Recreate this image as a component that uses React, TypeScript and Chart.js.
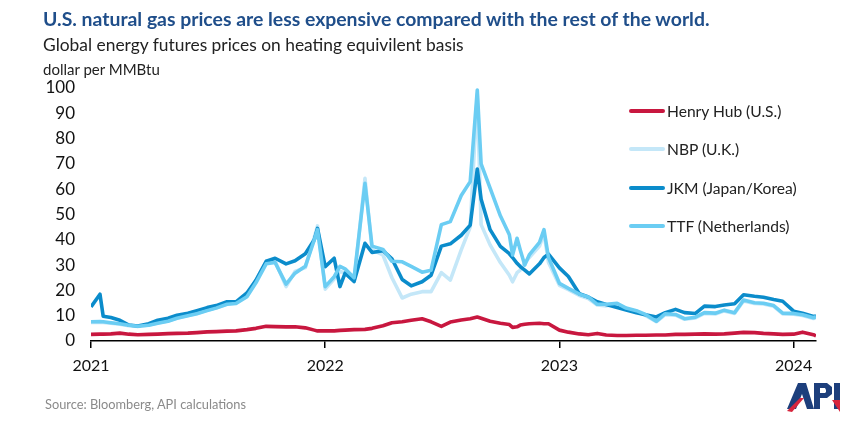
import React, { useEffect, useRef } from "react";
import { Chart, registerables } from "chart.js";

Chart.register(...registerables);

// ---- Data ----
const dates = [
  "2021-01-01", "2021-01-15", "2021-01-20", "2021-02-01", "2021-02-15", "2021-03-01", "2021-03-15",
  "2021-04-01", "2021-04-15", "2021-05-01", "2021-05-15", "2021-06-01", "2021-06-15", "2021-07-01",
  "2021-07-15", "2021-08-01", "2021-08-15", "2021-09-01", "2021-09-15", "2021-10-01", "2021-10-15",
  "2021-11-01", "2021-11-15", "2021-12-01", "2021-12-15", "2021-12-20",
  "2022-01-01", "2022-01-15", "2022-01-24", "2022-02-01", "2022-02-15", "2022-03-04", "2022-03-15",
  "2022-04-01", "2022-04-15", "2022-05-01", "2022-05-15", "2022-06-01", "2022-06-15", "2022-07-01",
  "2022-07-15", "2022-08-01", "2022-08-15", "2022-08-26", "2022-09-01", "2022-09-15", "2022-10-01",
  "2022-10-15", "2022-10-20", "2022-10-27", "2022-11-01", "2022-11-08", "2022-11-15", "2022-12-01",
  "2022-12-08", "2022-12-15",
  "2023-01-01", "2023-01-15", "2023-02-01", "2023-02-15", "2023-03-01", "2023-03-15", "2023-04-01",
  "2023-04-15", "2023-05-01", "2023-05-15", "2023-06-01", "2023-06-15", "2023-07-01", "2023-07-15",
  "2023-08-01", "2023-08-15", "2023-09-01", "2023-09-15", "2023-10-01", "2023-10-15", "2023-11-01",
  "2023-11-15", "2023-12-01", "2023-12-15",
  "2024-01-01", "2024-01-15", "2024-02-01", "2024-02-05",
];

const henryHub = [
  2.6, 2.7, 2.7, 2.8, 3.1, 2.7, 2.5, 2.6, 2.7, 2.9, 3.0, 3.1, 3.3, 3.6, 3.7, 3.9, 4.0, 4.5, 5.0, 5.8, 5.7, 5.6, 5.6, 5.2, 4.3, 4.0,
  4.0, 4.0, 4.2, 4.3, 4.5, 4.6, 5.0, 6.0, 7.2, 7.6, 8.2, 8.8, 7.6, 5.8, 7.5, 8.3, 8.8, 9.5, 9.0, 7.8, 7.0, 6.5, 5.4, 5.6, 6.3, 6.6, 6.8, 7.0, 6.8, 6.8,
  4.3, 3.5, 2.8, 2.5, 3.0, 2.4, 2.2, 2.2, 2.3, 2.3, 2.4, 2.4, 2.6, 2.6, 2.7, 2.8, 2.7, 2.8, 3.1, 3.4, 3.3, 3.0, 2.8, 2.6,
  2.7, 3.5, 2.5, 2.0,
];

const nbp = [
  7.3, 7.4, 7.3, 7.0, 6.6, 6.0, 5.7, 6.3, 7.1, 7.9, 9.1, 10.1, 10.9, 12.1, 13.1, 14.6, 15.0, 18.0, 24.0, 31.5, 31.5, 21.5, 27.5, 29.0, 41.0, 45.5,
  20.5, 24.5, 27.5, 27.0, 23.5, 64.3, 36.0, 34.0, 25.0, 17.0, 18.5, 19.5, 19.5, 27.0, 24.1, 36.0, 45.0, 97.5, 46.0, 38.0, 31.0, 26.0, 23.4, 27.0, 28.0, 31.0, 33.0, 37.5, 42.5, 31.0,
  22.0, 20.3, 18.0, 16.8, 14.2, 13.9, 14.5, 12.7, 11.6, 10.1, 7.6, 10.4, 10.2, 8.6, 9.1, 10.9, 10.7, 11.9, 10.9, 15.8, 14.8, 14.6, 13.7, 10.7,
  10.6, 10.1, 8.9, 9.3,
];

const jkm = [
  13.5, 18.5, 9.8, 9.3, 8.2, 6.3, 5.9, 6.8, 8.2, 9.0, 10.2, 11.0, 12.0, 13.2, 14.0, 15.5, 15.5, 19.0, 24.0, 31.5, 32.7, 30.5, 31.7, 34.5, 40.0, 44.5,
  29.4, 32.7, 21.5, 26.8, 23.5, 38.6, 35.0, 35.7, 32.5, 24.3, 21.8, 23.4, 26.0, 37.5, 38.4, 41.8, 45.8, 68.0, 56.0, 44.0, 37.4, 34.5, 33.0, 30.7, 29.4, 28.0, 26.5, 30.5, 33.0, 34.3,
  28.9, 25.5, 18.7, 17.4, 15.5, 14.4, 13.2, 12.3, 11.2, 10.4, 9.5, 11.2, 12.5, 11.2, 10.9, 13.8, 13.6, 14.2, 14.7, 18.3, 17.7, 17.3, 16.4, 15.7,
  11.8, 11.0, 9.7, 9.9,
];

const ttf = [
  7.6, 7.7, 7.6, 7.2, 6.8, 6.2, 5.8, 6.2, 7.0, 7.8, 9.0, 10.0, 10.8, 12.0, 13.0, 14.5, 14.8, 17.5, 23.0, 30.5, 31.0, 22.5, 26.8, 29.5, 40.0, 44.0,
  21.5, 25.4, 29.5, 28.5, 25.0, 62.3, 37.5, 36.2, 31.5, 31.3, 29.5, 27.2, 28.0, 46.0, 47.2, 57.5, 63.0, 99.2, 70.0, 60.4, 49.5, 42.0, 34.0, 40.6, 36.0, 30.0, 34.0, 39.0, 44.0, 33.0,
  22.8, 20.8, 18.5, 17.4, 14.5, 14.5, 14.9, 13.0, 12.0, 10.5, 7.8, 10.8, 10.5, 8.8, 9.4, 11.2, 11.0, 12.2, 11.2, 16.2, 15.1, 14.9, 14.0, 11.0,
  10.9, 10.4, 9.2, 9.6,
];

const yTickValues = [0, 10, 20, 30, 40, 50, 60, 70, 80, 90, 100];
const xTickYears = [2021, 2022, 2023, 2024];

const seriesLabels = ["Henry Hub (U.S.)", "NBP (U.K.)", "JKM (Japan/Korea)", "TTF (Netherlands)"];
const seriesColors = ["#C8173F", "#C4E7F8", "#0B8CCB", "#6BCDF3"];

function toYear(s: string): number {
  const [y, m, d] = s.split("-").map(Number);
  const start = Date.UTC(y, 0, 1);
  const end = Date.UTC(y + 1, 0, 1);
  return y + (Date.UTC(y, m - 1, d) - start) / (end - start);
}

const FONT = "Lato, 'Open Sans', sans-serif";

export default function App() {
  const ref = useRef<HTMLCanvasElement>(null);

  useEffect(() => {
    if (!ref.current) return;
    const xs = dates.map(toYear);
    const mk = (vals: number[]) => vals.map((v, i) => ({ x: xs[i], y: v }));
    const base = { pointRadius: 0, borderWidth: 3.6, tension: 0, fill: false, borderJoinStyle: "round" as const };
    const chart = new Chart(ref.current, {
      type: "line",
      data: {
        datasets: [
          { ...base, label: seriesLabels[0], data: mk(henryHub), borderColor: seriesColors[0] },
          { ...base, label: seriesLabels[3], data: mk(ttf), borderColor: seriesColors[3] },
          { ...base, label: seriesLabels[2], data: mk(jkm), borderColor: seriesColors[2] },
          { ...base, label: seriesLabels[1], data: mk(nbp), borderColor: seriesColors[1] },
        ],
      },
      options: {
        animation: false,
        responsive: false,
        maintainAspectRatio: false,
        layout: { padding: { left: 0, right: 51, top: 88, bottom: 0 } },
        plugins: { legend: { display: false }, tooltip: { enabled: false } },
        scales: {
          x: {
            type: "linear",
            min: 2021,
            max: toYear(dates[dates.length - 1]),
            afterBuildTicks: (s: any) => {
              s.ticks = xTickYears.map((v) => ({ value: v }));
            },
            afterFit: (s: any) => {
              s.height = 81;
            },
            ticks: {
              callback: (v: any) => String(v),
              font: { family: FONT, size: 16 },
              color: "#111",
              padding: 8,
              maxRotation: 0,
              autoSkip: false,
            },
            grid: {
              display: true,
              drawOnChartArea: false,
              drawTicks: true,
              tickLength: 7,
              color: "#000",
              lineWidth: 1.5,
            },
            border: { display: true, color: "#000", width: 1.5 },
          },
          y: {
            min: 0,
            max: 100,
            afterBuildTicks: (s: any) => {
              s.ticks = yTickValues.map((v) => ({ value: v }));
            },
            afterFit: (s: any) => {
              s.width = 91;
            },
            ticks: { font: { family: FONT, size: 17 }, color: "#111", padding: 16 },
            grid: { display: false, drawTicks: false },
            border: { display: false },
          },
        },
      },
    });
    return () => chart.destroy();
  }, []);

  const legendY = [111, 149, 188, 226];

  return (
    <div
      style={{
        position: "fixed",
        left: 0,
        top: 0,
        width: 867,
        height: 422,
        background: "#fff",
        fontFamily: FONT,
        overflow: "hidden",
      }}
    >
      <canvas ref={ref} width={867} height={422} style={{ position: "absolute", left: 0, top: 0 }} />
      <div style={{ position: "absolute", left: 43, top: 7, fontSize: 19.4, fontWeight: 700, color: "#1F4E8A", whiteSpace: "nowrap" }}>
        U.S. natural gas prices are less expensive compared with the rest of the world.
      </div>
      <div style={{ position: "absolute", left: 43, top: 34, fontSize: 17.4, color: "#222", whiteSpace: "nowrap" }}>
        Global energy futures prices on heating equivilent basis
      </div>
      <div style={{ position: "absolute", left: 43, top: 60, fontSize: 15, color: "#222", whiteSpace: "nowrap" }}>
        dollar per MMBtu
      </div>
      {seriesLabels.map((lab, i) => (
        <div key={lab}>
          <div
            style={{
              position: "absolute",
              left: 629,
              top: legendY[i] - 2,
              width: 36,
              height: 4,
              borderRadius: 2,
              background: seriesColors[i],
            }}
          />
          <div
            style={{
              position: "absolute",
              left: 667,
              top: legendY[i] - 10,
              fontSize: 15.6,
              lineHeight: "20px",
              color: "#222",
              whiteSpace: "nowrap",
            }}
          >
            {lab}
          </div>
        </div>
      ))}
      <div style={{ position: "absolute", left: 45, top: 396, fontSize: 12.8, color: "#8a8a8a", whiteSpace: "nowrap" }}>
        Source: Bloomberg, API calculations
      </div>
      <svg style={{ position: "absolute", left: 784, top: 381 }} width={60} height={32} viewBox="0 0 60 32">
        <polygon points="3,28 14,2 22,2 30,28 23,28 18,13 12,28" fill="#1D3F7C" />
        <polygon points="30,2 43,2 48,6 48,13 43,17 36,17 36,28 30,28" fill="#1D3F7C" />
        <polygon points="36,7 41,7 42,9 42,11 41,12 36,12" fill="#fff" />
        <rect x="50" y="2" width="6" height="26" fill="#1D3F7C" />
        <polygon points="3,30 16,17 20,17 8,31" fill="#D7263D" />
        <polygon points="48,19 56,19 56,31" fill="#D7263D" />
      </svg>
    </div>
  );
}
